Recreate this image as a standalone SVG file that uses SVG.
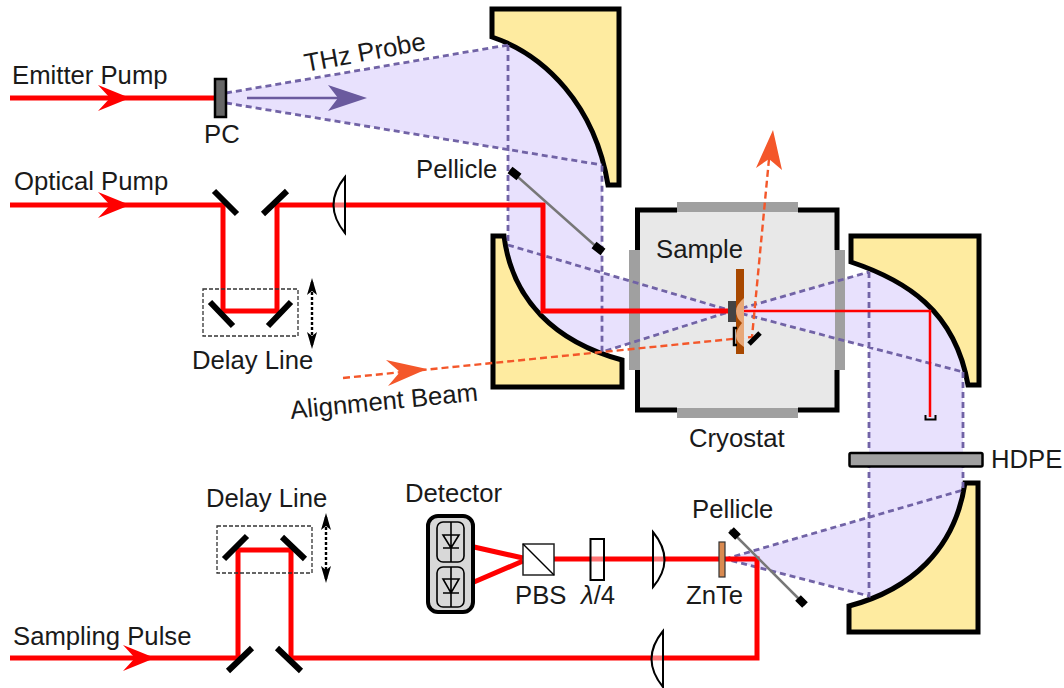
<svg xmlns="http://www.w3.org/2000/svg" width="1064" height="688" viewBox="0 0 1064 688">
<style>
text{font-family:"Liberation Sans",Arial,sans-serif;font-size:25.7px;fill:#1a1a1a}
.mir{fill:#feeba0;stroke:#000;stroke-width:5;stroke-linejoin:miter}
.lav{fill:#e8e1fd;stroke:none}
.thz{fill:none;stroke:#7163a6;stroke-width:2.8;stroke-dasharray:6 4}
.red{fill:none;stroke:#f00;stroke-width:5;stroke-linejoin:miter}
.thin{fill:none;stroke:#f00;stroke-width:2.5}
.m{stroke:#000;stroke-width:6;fill:none}
.lens{fill:#fff;fill-opacity:.45;stroke:#000;stroke-width:2}
.box{fill:none;stroke:#333;stroke-width:1.3;stroke-dasharray:4 2}
.win{fill:#a0a0a0}
.dbl{stroke:#000;stroke-width:2.4;stroke-dasharray:3 2;fill:none}
.ali{fill:none;stroke:#f4572a;stroke-width:2.4;stroke-dasharray:7 4}
.alih{fill:#f4572a}
.peli{stroke:#777;stroke-width:2.5}
.pelie{stroke:#000;stroke-width:8}
.diode{fill:none;stroke:#000;stroke-width:1.6}
</style>
<g id="beam-fill">
<rect id="cryo-body" x="637.5" y="210" width="199.5" height="200" fill="#e8e8e8"/>
<path class="lav" d="M226,93L508,46L602,46V165L226,103Z"/>
<rect class="lav" x="508" y="46" width="94" height="310"/>
<path class="lav" d="M508,245L732,311L602,352Z"/>
<path class="lav" d="M732,311L869,272L963,272V372Z"/>
<rect class="lav" x="869" y="272" width="94" height="324"/>
<path class="lav" d="M725,559L963,490V596H869Z"/>
</g>
<g id="cryostat">
<path d="M677,210H637.5V250M637.5,370V410H677M798,210H837V250M837,370V410H798" fill="none" stroke="#000" stroke-width="5"/>
<rect class="win" x="677" y="202" width="121" height="10"/>
<rect class="win" x="677" y="408" width="121" height="10"/>
<rect class="win" x="629" y="250" width="11" height="120"/>
<rect class="win" x="835" y="250" width="10" height="120"/>
</g>
<g id="mirror-top"><path class="mir" d="M492,9H619V185H608C595,105 545,55 492,37Z"/></g>
<g id="mirror-left"><path class="mir" d="M493,236H504C512,300 555,342 622,360V387H493Z"/></g>
<g id="mirror-right"><path class="mir" d="M851,236H979V385H968C955,310 905,280 851,262Z"/></g>
<g id="mirror-bottom"><path class="mir" d="M849,632H978V483H965C955,550 910,590 849,606Z"/></g>
<g id="connectors">
<path class="thz" d="M226,93L508,45M226,103L602,165M508,45V245L732,311L602,352V165M732,311L869,272M732,311L963,372M869,272V596L725,559M963,372V490L725,559"/>
<path class="red" d="M10,98H215"/>
<path class="red" d="M10,205H223V311H277V205H543V311H732"/>
<path class="thin" d="M732,311H930V417"/>
<path class="red" d="M10,658H238V550H291V658H757V559H554"/>
<path class="red" d="M474,547L523,558M474,582L523,561"/>
<path d="M98,85L130,98L98,111L110,98Z" fill="#f00"/>
<path d="M98,192L130,205L98,218L110,205Z" fill="#f00"/>
<path d="M123,645L155,658L123,671L135,658Z" fill="#f00"/>
<path d="M247,98H340" stroke="#6a5a9e" stroke-width="2.5" fill="none"/>
<path d="M328,85L367,98L328,111L338,98Z" fill="#6a5a9e"/>
<path class="ali" d="M343,378L752,337L769,159"/>
<path class="alih" d="M386,360L427,369L388,386L400,372Z"/>
<path class="alih" d="M773,130L782,170L769,159L756,168Z"/>
<path class="dbl" d="M312,282V345M326,517V579"/>
<path d="M312,278L307,295L312,291L317,295ZM312,349L307,332L312,336L317,332ZM326,513L321,530L326,526L331,530ZM326,583L321,566L326,570L331,566Z" fill="#000"/>
</g>
<g id="pc"><rect x="215" y="79" width="11" height="38" fill="#666" stroke="#000" stroke-width="2.5"/></g>
<g id="optical-delay">
<path class="m" d="M214,191L237,214M287,191L263,214M210,302L233,326M291,302L268,326"/>
<rect class="box" x="203" y="289" width="95" height="47"/>
</g>
<g id="sampling-delay">
<path class="m" d="M224,559L247,536M282,537L305,559M228,671L252,648M277,648L301,671"/>
<rect class="box" x="217" y="526" width="95" height="47"/>
</g>
<g id="lens-1"><path class="lens" d="M345,177Q322,205 345,233Z"/></g>
<g id="lens-2"><path class="lens" d="M653,532Q676,560 653,587Z"/></g>
<g id="lens-3"><path class="lens" d="M663,631Q640,659 663,687Z"/></g>
<g id="pellicle-1"><path class="peli" d="M510,170L600,250"/><path class="pelie" d="M510,170L519,177M594,245L603,252"/></g>
<g id="pellicle-2"><path class="peli" d="M730,530L805,605"/><path class="pelie" d="M731,530L738,537M798,598L805,605"/></g>
<g id="sample">
<rect x="736" y="269" width="8" height="85" fill="#a84800"/>
<path d="M744,298Q736,305 736,311Q736,318 742,323Q736,330 736,336Q736,342 744,347Z" fill="#e8a878"/>
<rect x="728" y="301" width="8" height="21" fill="#444"/>
<path d="M737,328H734V345H737" fill="none" stroke="#000" stroke-width="2.5"/>
<path class="m" style="stroke-width:5" d="M749,344L760,333"/>
</g>
<g id="dump"><path d="M925.5,415V419.5H935.5V415" fill="none" stroke="#000" stroke-width="2"/></g>
<g id="hdpe"><rect x="849.5" y="453" width="133" height="13.5" rx="1.5" fill="#a0a0a0" stroke="#000" stroke-width="2.5"/></g>
<g id="znte"><rect x="719" y="542" width="6" height="35" fill="#d98a50" stroke="#333" stroke-width="1.2"/></g>
<g id="wave-plate"><rect x="590.5" y="539" width="13.5" height="41" fill="#fff" fill-opacity=".45" stroke="#000" stroke-width="2"/></g>
<g id="pbs"><rect x="523" y="544" width="31" height="31" fill="#fff" fill-opacity=".75" stroke="#222" stroke-width="1.5"/><path d="M523,544L554,575" stroke="#000" stroke-width="1.5"/></g>
<g id="detector">
<rect x="428" y="516" width="45" height="96" rx="10" fill="#d8d8d8" stroke="#000" stroke-width="4"/>
<rect class="diode" x="437" y="522" width="27" height="40" rx="6"/>
<rect class="diode" x="437" y="567" width="27" height="40" rx="6"/>
<path class="diode" d="M451,522V562M443,535H459L451,548ZM443,548H459M451,567V607M443,579H459L451,593ZM443,593H459"/>
</g>
<g id="labels">
<text x="12" y="84">Emitter Pump</text>
<text x="204" y="143">PC</text>
<text x="14" y="190">Optical Pump</text>
<text transform="translate(306,72) rotate(-10.5)">THz Probe</text>
<text x="416" y="178">Pellicle</text>
<text x="656" y="258">Sample</text>
<text x="192" y="369">Delay Line</text>
<text transform="translate(291,419) rotate(-5.6)">Alignment Beam</text>
<text x="689" y="447">Cryostat</text>
<text x="991" y="468">HDPE</text>
<text x="206" y="507">Delay Line</text>
<text x="405" y="502">Detector</text>
<text x="692" y="518">Pellicle</text>
<text x="686" y="604">ZnTe</text>
<text x="515" y="604">PBS</text>
<text x="581" y="604"><tspan font-style="italic">λ</tspan>/4</text>
<text x="13" y="645">Sampling Pulse</text>
</g>
</svg>
